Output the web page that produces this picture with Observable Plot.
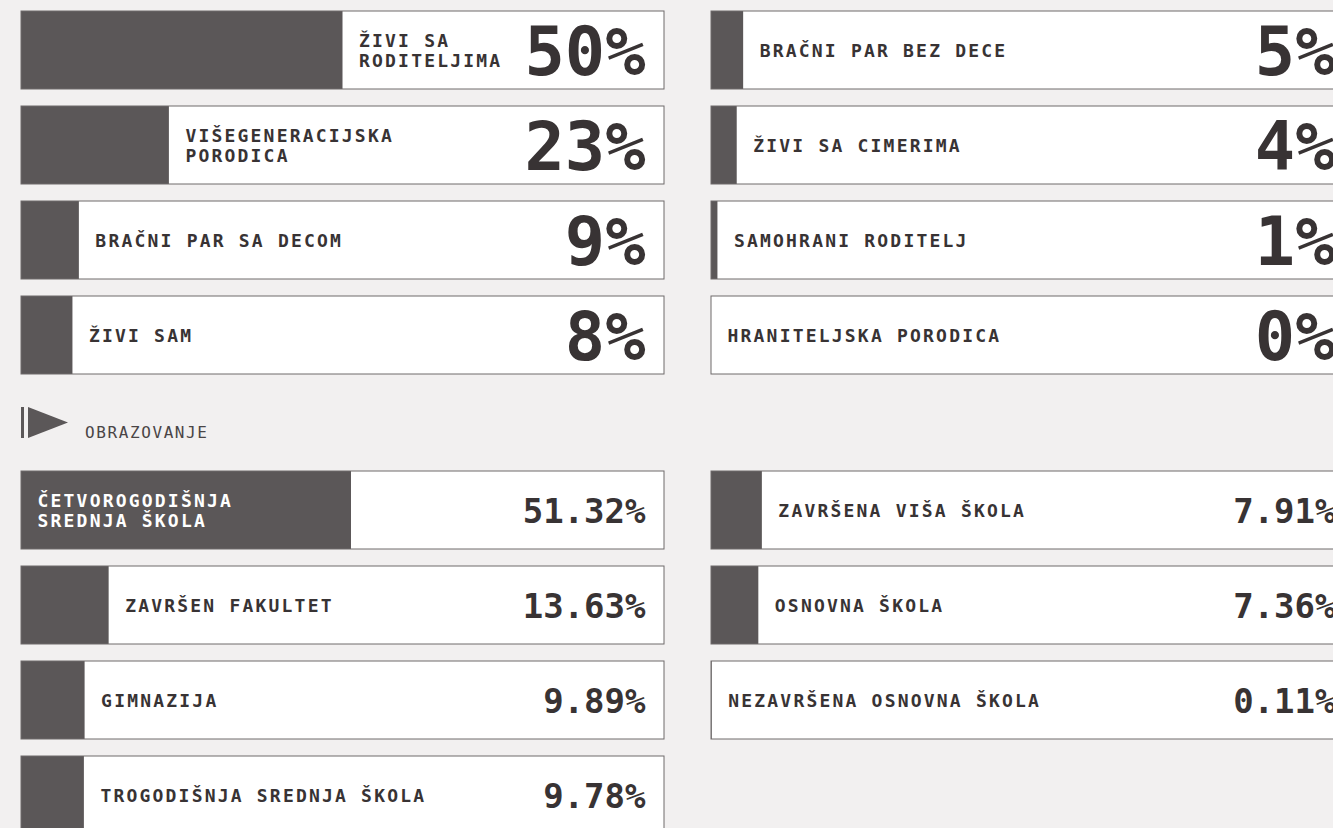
<!DOCTYPE html>
<html>
<head>
<meta charset="utf-8">
<script src="https://cdn.jsdelivr.net/npm/d3@7"></script>
<script src="https://cdn.jsdelivr.net/npm/@observablehq/plot@0.6"></script>
<style>
  html, body { margin: 0; padding: 0; background: #f2f0f0; width: 1333px; height: 828px; overflow: hidden; }
  #wrap { position: relative; width: 1333px; overflow: hidden; }
  .panel { width: 1333px; overflow: hidden; }
  .panel svg { display: block; max-width: none !important; }
  #hdr { position: relative; height: 70px; }
  #hdr svg { position: absolute; left: 0; top: 0; }
  #hdr span { position: absolute; left: 85px; top: 33px; font-family: "DejaVu Sans Mono", monospace; font-size: 16px; letter-spacing: 1.6px; color: #4a4546; }
  .lbl { letter-spacing: 2.2px; }
</style>
</head>
<body>
<div id="wrap">
  <div id="fam" class="panel"></div>
  <div id="hdr">
    <svg width="80" height="70"><rect x="21" y="17" width="3" height="31" fill="#5b5758"></rect><path d="M28,17 L68,32.5 L28,48 Z" fill="#5b5758"></path></svg>
    <span id="hdrText"></span>
  </div>
  <div id="edu" class="panel"></div>
</div>
<script>
// ---- data ----
const familyLabels = ["ŽIVI SA\nRODITELJIMA", "VIŠEGENERACIJSKA\nPORODICA", "BRAČNI PAR SA DECOM", "ŽIVI SAM",
                      "BRAČNI PAR BEZ DECE", "ŽIVI SA CIMERIMA", "SAMOHRANI RODITELJ", "HRANITELJSKA PORODICA"];
const familyValues = [50, 23, 9, 8, 5, 4, 1, 0];

const sectionTitle = "OBRAZOVANJE";

const educationLabels = ["ČETVOROGODIŠNJA\nSREDNJA ŠKOLA", "ZAVRŠEN FAKULTET", "GIMNAZIJA", "TROGODIŠNJA SREDNJA ŠKOLA",
                         "ZAVRŠENA VIŠA ŠKOLA", "OSNOVNA ŠKOLA", "NEZAVRŠENA OSNOVNA ŠKOLA"];
const educationValues = [51.32, 13.63, 9.89, 9.78, 7.91, 7.36, 0.11];

// ---- layout ----
const W = 1375, ML = 21, MR = 21, GAP = 47;
const boxW = (W - ML - MR - GAP) / 2;
const DARK = "#5b5758", INK = "#383334";
const LABEL_SIZE = 18, LABEL_PITCH = 13, PAD = 16, VPAD = 19;

document.getElementById("hdrText").textContent = sectionTitle;

function panel(labels, values, fmt, valueSize, valueDy) {
  const data = labels.map((label, i) => {
    const value = values[i];
    const lines = label.split("\n");
    const labelW = d3.max(lines, l => l.length) * LABEL_PITCH;
    const valueW = fmt(value).length * valueSize * 0.602;
    const inside = value / 100 * boxW + PAD + labelW > boxW - VPAD - valueW - 10;
    return {label, value, inside, col: i < 4 ? "L" : "R", row: i % 4};
  });
  const outside = data.filter(d => !d.inside), inside = data.filter(d => d.inside);
  return Plot.plot({
    width: W, height: 390,
    marginLeft: ML, marginRight: MR, marginTop: 11, marginBottom: 16,
    style: {background: "transparent", fontFamily: "DejaVu Sans Mono", maxWidth: "none"},
    fx: {domain: ["L", "R"], paddingInner: GAP / (boxW + GAP), paddingOuter: 0, axis: null, label: null},
    x: {domain: [0, 100], axis: null},
    y: {type: "band", domain: [0, 1, 2, 3], paddingInner: 17 / 95, paddingOuter: 0, axis: null},
    marks: [
      Plot.barX(data, {x1: 0, x2: 100, y: "row", fx: "col", fill: "white"}),
      Plot.barX(data, {x1: 0, x2: "value", y: "row", fx: "col", fill: DARK}),
      Plot.barX(data, {x1: 0, x2: 100, y: "row", fx: "col", fill: "none", stroke: "#6f6a6b", strokeWidth: 1}),
      Plot.text(outside, {x: "value", y: "row", fx: "col", text: "label", dx: PAD, textAnchor: "start",
        fill: INK, fontSize: LABEL_SIZE, fontWeight: 700, lineHeight: 1.1, className: "lbl"}),
      Plot.text(inside, {x: 0, y: "row", fx: "col", text: "label", dx: PAD, textAnchor: "start",
        fill: "white", fontSize: LABEL_SIZE, fontWeight: 700, lineHeight: 1.1, className: "lbl"}),
      Plot.text(data, {x: 100, y: "row", fx: "col", text: d => fmt(d.value), dx: -VPAD, dy: valueDy, textAnchor: "end",
        fill: INK, fontSize: valueSize, fontWeight: 700})
    ]
  });
}

document.getElementById("fam").append(panel(familyLabels, familyValues, v => `${v}%`, 67, 3));
document.getElementById("edu").append(panel(educationLabels, educationValues, v => `${v.toFixed(2)}%`, 34, 1.5));
</script>
</body>
</html>
